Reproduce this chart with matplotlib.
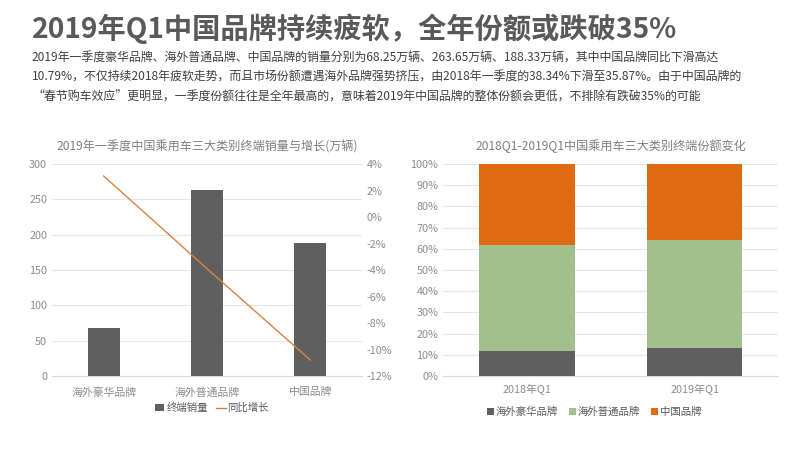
import numpy as np
import matplotlib.pyplot as plt
from matplotlib.ticker import FuncFormatter

plt.rcParams['font.family'] = ['Noto Sans CJK SC', 'DejaVu Sans']

# data
brands = ['海外豪华品牌', '海外普通品牌', '中国品牌']
sales = [68.25, 263.65, 188.33]
growth = [3.1, -3.9, -10.79]

quarters = ['2018年Q1', '2019年Q1']
share_lux = [11.8, 13.1]
share_ord = [49.9, 51.0]
share_cn = [38.3, 35.9]

title = '2019年Q1中国品牌持续疲软，全年份额或跌破35%'
body = ['2019年一季度豪华品牌、海外普通品牌、中国品牌的销量分别为68.25万辆、263.65万辆、188.33万辆，其中中国品牌同比下滑高达',
        '10.79%，不仅持续2018年疲软走势，而且市场份额遭遇海外品牌强势挤压，由2018年一季度的38.34%下滑至35.87%。由于中国品牌的',
        '“春节购车效应”更明显，一季度份额往往是全年最高的，意味着2019年中国品牌的整体份额会更低，不排除有跌破35%的可能']

dark = '#5f5f5f'
tick_c = '#8c8c8c'
grid_c = '#e6e6e6'

fig = plt.figure(figsize=(8, 4.5), dpi=100)
fig.text(0.04, 0.937, title, fontsize=20.3, fontweight='bold', color='#595959', va='center')
for i, line in enumerate(body):
    fig.text(0.04, 0.871 - i * 0.043, line, fontsize=8.6, color='#404040', va='center')

# left chart: bars + line
ax = fig.add_axes([0.065, 0.1644, 0.3875, 0.471])
x = np.arange(len(brands))
ax.bar(x, sales, width=0.31, color=dark, label='终端销量', zorder=3)
ax.set_xlim(-0.5, 2.5)
ax.set_ylim(0, 300)
ax.set_yticks(range(0, 301, 50))
ax.set_xticks(x)
ax.set_xticklabels(brands)
ax.yaxis.grid(True, color=grid_c, lw=0.8, zorder=0)
for s in ax.spines.values():
    s.set_visible(False)
ax.spines['bottom'].set_visible(True)
ax.spines['bottom'].set_color('#d9d9d9')
ax.tick_params(length=0, colors=tick_c, labelsize=7.8)
ax.tick_params(axis='x', pad=8)

ax2 = ax.twinx()
ax2.plot(x, growth, color='#d9823b', lw=1.0, label='同比增长', zorder=4)
ax2.set_ylim(-12, 4)
ax2.set_yticks(range(-12, 5, 2))
ax2.yaxis.set_major_formatter(FuncFormatter(lambda v, p: f'{v:.0f}%'))
for s in ax2.spines.values():
    s.set_visible(False)
ax2.tick_params(length=0, colors=tick_c, labelsize=7.8)

ax.set_title('2019年一季度中国乘用车三大类别终端销量与增长(万辆)', fontsize=8.7, color='#7f7f7f', pad=10)
h1, l1 = ax.get_legend_handles_labels()
h2, l2 = ax2.get_legend_handles_labels()
fig.legend(h1 + h2, l1 + l2, loc='center', bbox_to_anchor=(0.265, 0.093), ncol=2, frameon=False,
           fontsize=7.5, labelcolor='#595959', handlelength=0.9, handleheight=0.7, handletextpad=0.2, columnspacing=0.8)

# right chart: 100% stacked bars
bx = fig.add_axes([0.554, 0.1644, 0.419, 0.471])
q = np.arange(len(quarters))
w = 0.57
bx.bar(q, share_lux, width=w, color=dark, label='海外豪华品牌', zorder=3)
bx.bar(q, share_ord, width=w, bottom=share_lux, color='#a2c08e', label='海外普通品牌', zorder=3)
bx.bar(q, share_cn, width=w, bottom=np.add(share_lux, share_ord), color='#df6a12', label='中国品牌', zorder=3)
bx.set_xlim(-0.5, 1.5)
bx.set_ylim(0, 100)
bx.set_yticks(range(0, 101, 10))
bx.yaxis.set_major_formatter(FuncFormatter(lambda v, p: f'{v:.0f}%'))
bx.set_xticks(q)
bx.set_xticklabels(quarters)
bx.yaxis.grid(True, color=grid_c, lw=0.8, zorder=0)
for s in bx.spines.values():
    s.set_visible(False)
bx.spines['bottom'].set_visible(True)
bx.spines['bottom'].set_color('#d9d9d9')
bx.tick_params(length=0, colors=tick_c, labelsize=7.8)
bx.tick_params(axis='x', pad=6)
bx.set_title('2018Q1-2019Q1中国乘用车三大类别终端份额变化', fontsize=8.7, color='#7f7f7f', pad=10)
bx.legend(loc='center', bbox_to_anchor=(0.45, -0.17), ncol=3, frameon=False, fontsize=7.5,
          labelcolor='#595959', handlelength=0.7, handleheight=0.7, handletextpad=0.2, columnspacing=1.0)

fig.savefig('out.png', dpi=100)
